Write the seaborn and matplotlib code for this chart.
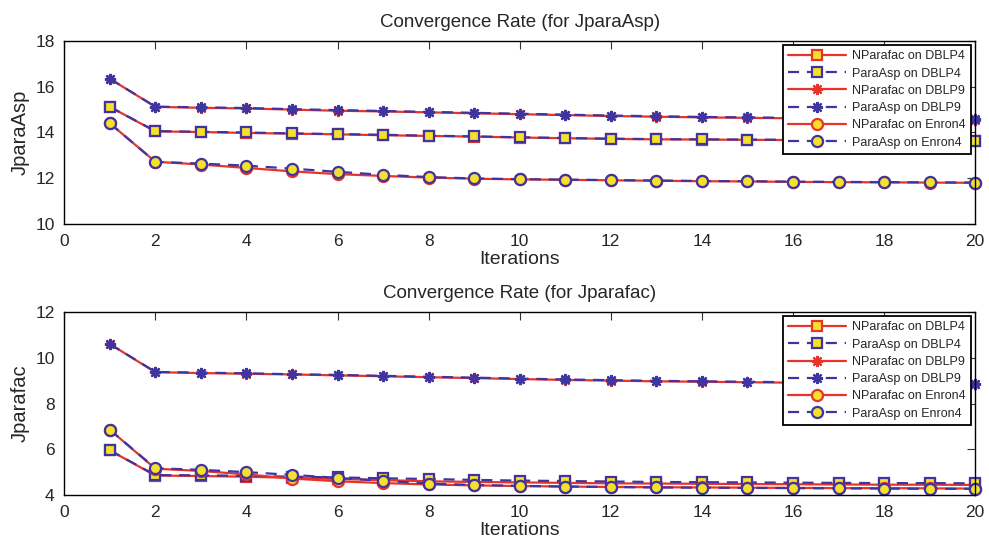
import numpy as np
import pandas as pd
import matplotlib
matplotlib.use("Agg")
import matplotlib.pyplot as plt
import seaborn as sns

# ─── DATA ────────────────────────────────────────────────────────────────────
iterations = list(range(1, 21))

# top panel: JparaAsp
top_np_dblp4 = [15.12, 14.05, 14.02, 13.98, 13.95, 13.92, 13.88, 13.85, 13.82, 13.78,
                13.75, 13.72, 13.70, 13.69, 13.68, 13.67, 13.66, 13.65, 13.64, 13.63]
top_pa_dblp4 = [15.12, 14.06, 14.03, 14.00, 13.96, 13.93, 13.90, 13.86, 13.83, 13.79,
                13.76, 13.73, 13.71, 13.70, 13.69, 13.68, 13.67, 13.66, 13.65, 13.63]
top_np_dblp9 = [16.35, 15.12, 15.08, 15.05, 15.00, 14.95, 14.92, 14.88, 14.84, 14.80,
                14.76, 14.72, 14.69, 14.66, 14.64, 14.62, 14.60, 14.58, 14.56, 14.55]
top_pa_dblp9 = [16.35, 15.13, 15.10, 15.07, 15.02, 14.98, 14.94, 14.90, 14.86, 14.82,
                14.78, 14.74, 14.71, 14.68, 14.66, 14.64, 14.62, 14.60, 14.58, 14.57]
top_np_enron4 = [14.40, 12.72, 12.60, 12.45, 12.30, 12.18, 12.10, 12.03, 11.98, 11.95,
                 11.93, 11.91, 11.89, 11.87, 11.86, 11.84, 11.83, 11.82, 11.81, 11.80]
top_pa_enron4 = [14.40, 12.72, 12.64, 12.55, 12.42, 12.28, 12.15, 12.05, 11.99, 11.96,
                 11.94, 11.92, 11.90, 11.88, 11.87, 11.85, 11.84, 11.83, 11.82, 11.81]

# bottom panel: Jparafac
bot_np_dblp4 = [5.95, 4.85, 4.83, 4.80, 4.75, 4.70, 4.65, 4.60, 4.57, 4.55,
                4.53, 4.51, 4.50, 4.49, 4.48, 4.47, 4.46, 4.45, 4.45, 4.44]
bot_pa_dblp4 = [5.95, 4.87, 4.86, 4.84, 4.80, 4.77, 4.73, 4.70, 4.66, 4.63,
                4.61, 4.59, 4.57, 4.56, 4.55, 4.54, 4.53, 4.52, 4.52, 4.51]
bot_np_dblp9 = [10.60, 9.37, 9.33, 9.30, 9.27, 9.23, 9.19, 9.15, 9.11, 9.07,
                9.03, 9.00, 8.97, 8.95, 8.93, 8.91, 8.89, 8.87, 8.86, 8.85]
bot_pa_dblp9 = [10.60, 9.38, 9.35, 9.32, 9.28, 9.25, 9.21, 9.17, 9.13, 9.09,
                9.05, 9.02, 8.99, 8.97, 8.95, 8.93, 8.91, 8.89, 8.88, 8.86]
bot_np_enron4 = [6.85, 5.15, 5.05, 4.90, 4.72, 4.60, 4.52, 4.46, 4.42, 4.39,
                 4.37, 4.35, 4.34, 4.33, 4.32, 4.31, 4.30, 4.30, 4.29, 4.28]
bot_pa_enron4 = [6.85, 5.17, 5.10, 5.00, 4.88, 4.75, 4.62, 4.50, 4.44, 4.40,
                 4.37, 4.35, 4.33, 4.32, 4.31, 4.30, 4.29, 4.28, 4.27, 4.27]

series_labels = ["NParafac on DBLP4", "ParaAsp on DBLP4",
                 "NParafac on DBLP9", "ParaAsp on DBLP9",
                 "NParafac on Enron4", "ParaAsp on Enron4"]
# ─────────────────────────────────────────────────────────────────────────────

RED = "#e8332b"
BLUE = "#3f35a0"
YELLOW = "#f6e02c"
ASTERISK = (8, 2, 0)
DASH = (0, (5, 3.5))

STYLES = {
    "NParafac on DBLP4": dict(color=RED, ls="-", marker="s", ms=7),
    "ParaAsp on DBLP4": dict(color=BLUE, ls=DASH, marker="s", ms=7),
    "NParafac on DBLP9": dict(color=RED, ls="-", marker=ASTERISK, ms=8),
    "ParaAsp on DBLP9": dict(color=BLUE, ls=DASH, marker=ASTERISK, ms=8),
    "NParafac on Enron4": dict(color=RED, ls="-", marker="o", ms=8),
    "ParaAsp on Enron4": dict(color=BLUE, ls=DASH, marker="o", ms=8),
}


def make_frame(values):
    rows = []
    for lab, ys in zip(series_labels, values):
        for x, y in zip(iterations, ys):
            rows.append({"iteration": x, "value": y, "series": lab})
    return pd.DataFrame(rows)


def draw_panel(ax, df, title, ylabel, ylim):
    for lab in series_labels:
        st = STYLES[lab]
        sub = df[df["series"] == lab]
        sns.lineplot(data=sub, x="iteration", y="value", ax=ax,
                     color=st["color"], linestyle=st["ls"], linewidth=1.6,
                     marker=st["marker"], markersize=st["ms"],
                     markerfacecolor=YELLOW, markeredgecolor=st["color"],
                     markeredgewidth=1.6, label=lab, clip_on=False)
    ax.set_xlim(0, 20)
    ax.set_ylim(*ylim)
    ax.set_xticks(range(0, 21, 2))
    ax.set_yticks(np.arange(ylim[0], ylim[1] + 0.1, 2))
    ax.set_title(title, fontsize=13.5, pad=10)
    ax.set_xlabel("Iterations", fontsize=14, labelpad=2)
    ax.set_ylabel(ylabel, fontsize=14.5, labelpad=4)
    ax.tick_params(direction="in", top=True, right=True, length=6, pad=7,
                   labelsize=12.5, color="#333333")
    for sp in ax.spines.values():
        sp.set_visible(True)
        sp.set_linewidth(1)
        sp.set_color("black")
    leg = ax.legend(loc="upper right", fontsize=9, handlelength=4.6,
                    frameon=True, fancybox=False, framealpha=1,
                    borderaxespad=0.3, labelspacing=0.42, borderpad=0.45,
                    handletextpad=0.5)
    leg.get_frame().set_edgecolor("black")
    leg.get_frame().set_linewidth(1.3)
    leg.set_zorder(10)


def main():
    sns.set_style("white")
    plt.rcParams["font.family"] = ["Liberation Sans", "DejaVu Sans"]

    fig = plt.figure(figsize=(9.89, 5.43), dpi=100)
    ax_top = fig.add_axes([0.065, 0.5875, 0.921, 0.337])
    ax_bot = fig.add_axes([0.065, 0.0884, 0.921, 0.337])

    top_df = make_frame([top_np_dblp4, top_pa_dblp4, top_np_dblp9,
                         top_pa_dblp9, top_np_enron4, top_pa_enron4])
    bot_df = make_frame([bot_np_dblp4, bot_pa_dblp4, bot_np_dblp9,
                         bot_pa_dblp9, bot_np_enron4, bot_pa_enron4])

    draw_panel(ax_top, top_df, "Convergence Rate (for JparaAsp)", "JparaAsp", (10, 18))
    draw_panel(ax_bot, bot_df, "Convergence Rate (for Jparafac)", "Jparafac", (4, 12))

    fig.savefig("out.png", dpi=100)
    plt.close(fig)


if __name__ == "__main__":
    main()
